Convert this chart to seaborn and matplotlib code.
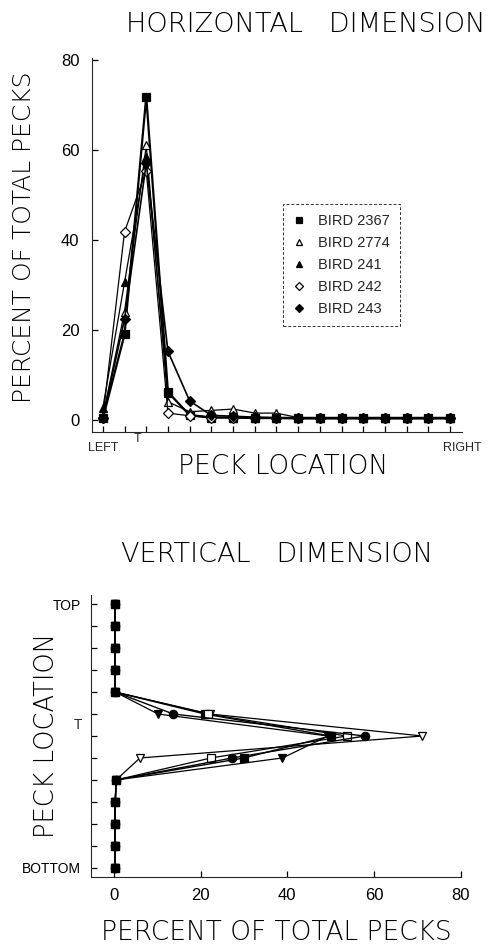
import matplotlib
matplotlib.use("Agg")
import matplotlib.pyplot as plt
import matplotlib.transforms as mtransforms
import seaborn as sns
import pandas as pd

sns.set_style("ticks")
plt.rcParams["font.family"] = ["Liberation Sans", "DejaVu Sans"]

# horizontal dimension: 17 key positions, left -> right
h_pos = [0, 1, 2, 3, 4, 5, 6, 7, 8, 9, 10, 11, 12, 13, 14, 15, 16]
h_2367 = [0.3, 19.0, 71.8, 6.2, 1.0, 0.5, 0.5, 0.4, 0.4, 0.3, 0.3, 0.3, 0.3, 0.3, 0.3, 0.3, 0.3]
h_2774 = [0.8, 24.0, 61.0, 4.0, 1.8, 2.1, 2.4, 1.5, 1.5, 0.5, 0.4, 0.4, 0.4, 0.4, 0.4, 0.4, 0.4]
h_241 = [2.7, 30.6, 58.5, 6.0, 1.2, 0.6, 0.5, 0.5, 0.5, 0.4, 0.4, 0.4, 0.4, 0.4, 0.4, 0.4, 0.4]
h_242 = [0.5, 41.8, 55.4, 1.5, 0.9, 0.5, 0.5, 0.4, 0.4, 0.4, 0.4, 0.4, 0.4, 0.4, 0.4, 0.4, 0.4]
h_243 = [0.5, 22.4, 57.0, 15.2, 4.2, 1.0, 0.8, 0.6, 0.5, 0.5, 0.5, 0.5, 0.5, 0.5, 0.5, 0.5, 0.5]

# vertical dimension: 13 key positions, top -> bottom
v_pos = [0, 1, 2, 3, 4, 5, 6, 7, 8, 9, 10, 11, 12]
v_sq = [0.2, 0.2, 0.2, 0.2, 0.3, 21.0, 50.0, 30.0, 0.5, 0.3, 0.2, 0.2, 0.2]
v_otri = [0.2, 0.2, 0.2, 0.2, 0.3, 22.2, 71.2, 6.0, 0.5, 0.3, 0.2, 0.2, 0.2]
v_ftri = [0.2, 0.2, 0.2, 0.2, 0.3, 10.2, 49.4, 38.9, 0.5, 0.3, 0.2, 0.2, 0.2]
v_osq = [0.2, 0.2, 0.2, 0.2, 0.3, 21.7, 53.7, 22.4, 0.5, 0.3, 0.2, 0.2, 0.2]
v_circ = [0.2, 0.2, 0.2, 0.2, 0.3, 13.7, 57.9, 27.3, 0.5, 0.3, 0.2, 0.2, 0.2]

W, H = 498, 948
fig = plt.figure(figsize=(W / 100, H / 100), dpi=100)


def box(l, t, r, b):
    return [l / W, 1 - b / H, (r - l) / W, (b - t) / H]


ax1 = fig.add_axes(box(92, 58, 462, 432))
ax2 = fig.add_axes(box(91, 595, 461, 877))

h_styles = [
    ("BIRD 2367", h_2367, "s", "black", 1.6),
    ("BIRD 2774", h_2774, "^", "white", 0.9),
    ("BIRD 241", h_241, "^", "black", 0.9),
    ("BIRD 242", h_242, "D", "white", 0.9),
    ("BIRD 243", h_243, "D", "black", 1.2),
]
for name, vals, mk, fc, lw in h_styles:
    df = pd.DataFrame({"loc": h_pos, "pct": vals})
    sns.lineplot(data=df, x="loc", y="pct", ax=ax1, color="black", lw=lw,
                 marker=mk, markersize=5.5, markerfacecolor=fc,
                 markeredgecolor="black", markeredgewidth=0.9, label=name)

ax1.set_xlim(-0.5, 16.55)
ax1.set_ylim(-2.7, 80.4)
ax1.set_xticks(h_pos)
ax1.set_xticklabels([])
ax1.set_yticks([0, 20, 40, 60, 80])
ax1.tick_params(axis="both", direction="in", length=4, width=0.9, labelsize=12, colors="black")
ax1.tick_params(axis="y", pad=9)
ax1.set_xlabel("")
ax1.set_ylabel("")
sns.despine(ax=ax1)
leg = ax1.legend(loc="upper left", bbox_to_anchor=(0.515, 0.61), frameon=True,
                 fancybox=False, fontsize=10.5, handlelength=0.8, handletextpad=0.9,
                 labelspacing=0.55, borderpad=0.7, borderaxespad=0)
leg.get_frame().set_edgecolor("black")
leg.get_frame().set_linestyle((0, (3, 2)))
leg.get_frame().set_linewidth(0.7)
for h in leg.legend_handles:
    h.set_linestyle("none")
    h.set_markersize(4.5)

tr1 = mtransforms.blended_transform_factory(ax1.transData, fig.transFigure)
ax1.text(0, 1 - 448 / H, "LEFT", transform=tr1, ha="center", va="center", fontsize=9)
ax1.text(16.55, 1 - 448 / H, "RIGHT", transform=tr1, ha="center", va="center", fontsize=9)
ax1.text(1.6, 1 - 439 / H, "T", transform=tr1, ha="center", va="center", fontsize=9)

v_styles = [
    (v_sq, "s", "black", 1.0),
    (v_otri, "v", "white", 0.9),
    (v_ftri, "v", "black", 0.9),
    (v_osq, "s", "white", 0.9),
    (v_circ, "o", "black", 1.0),
]
for vals, mk, fc, lw in v_styles:
    df = pd.DataFrame({"loc": v_pos, "pct": vals})
    sns.lineplot(data=df, x="pct", y="loc", ax=ax2, orient="y", color="black", lw=lw,
                 marker=mk, markersize=6, markerfacecolor=fc,
                 markeredgecolor="black", markeredgewidth=0.9)

ax2.set_xlim(-5.3, 80.1)
ax2.set_ylim(12.42, -0.42)
ax2.set_xticks([0, 20, 40, 60, 80])
ax2.set_yticks(v_pos)
ax2.set_yticklabels(["TOP", "", "", "", "", "", "", "", "", "", "", "", "BOTTOM"])
ax2.tick_params(axis="both", direction="in", length=4, width=0.9, labelsize=12, colors="black")
ax2.tick_params(axis="y", labelsize=10, pad=7)
ax2.tick_params(axis="x", pad=8)
ax2.set_xlabel("")
ax2.set_ylabel("")
sns.despine(ax=ax2)
tr2 = mtransforms.blended_transform_factory(fig.transFigure, ax2.transData)
ax2.text(78 / W, 5.5, "T", transform=tr2, ha="center", va="center", fontsize=10)

big = dict(ha="center", va="center", family="DejaVu Sans", fontweight="light", color="black")
fig.text(306 / W, 1 - 25 / H, "HORIZONTAL   DIMENSION", fontsize=19.5, **big)
fig.text(283 / W, 1 - 466 / H, "PECK LOCATION", fontsize=19, **big)
fig.text(24 / W, 1 - 237 / H, "PERCENT OF TOTAL PECKS", rotation=90, fontsize=18, **big)
fig.text(277 / W, 1 - 554 / H, "VERTICAL   DIMENSION", fontsize=19.5, **big)
fig.text(47 / W, 1 - 736 / H, "PECK LOCATION", rotation=90, fontsize=18.5, **big)
fig.text(276 / W, 1 - 933 / H, "PERCENT OF TOTAL PECKS", fontsize=19, **big)

fig.savefig("out.png", dpi=100, facecolor="white")
